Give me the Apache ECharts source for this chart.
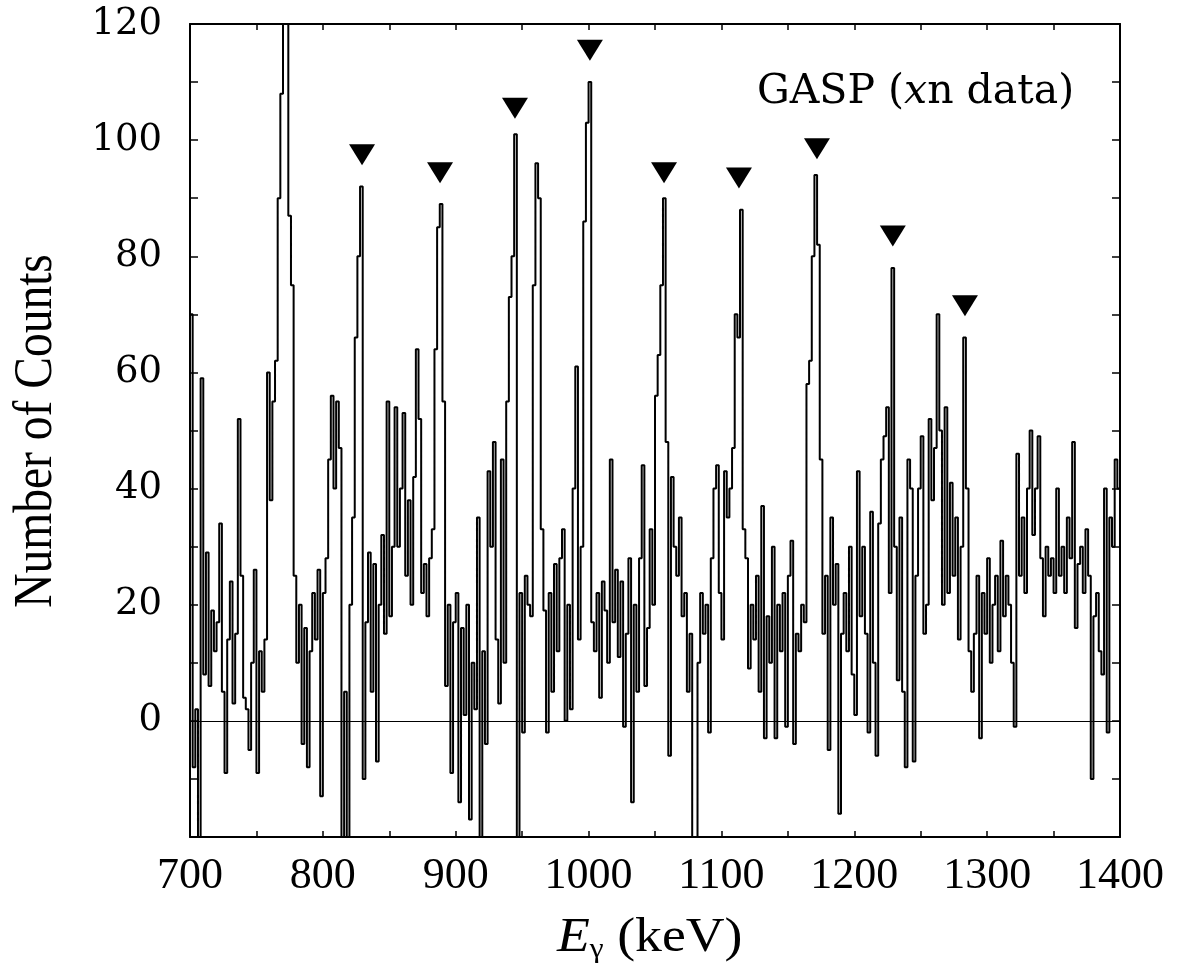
<!DOCTYPE html>
<html><head><meta charset="utf-8">
<script src="https://cdn.jsdelivr.net/npm/echarts@6/dist/echarts.min.js"></script>
<style>html,body{margin:0;padding:0;background:#fff}#c{width:1181px;height:968px}</style>
</head><body><div id="c"></div>
<script>
// Spectrum: 2 keV bins starting at 700 keV
const binStart = 700;
const binWidth = 2;
const counts = [
 70,-8,2,-25,59,8,29,6,19,12,   // 700-718
 17,34,5,-9,14,24,3,15,52,25,   // 720-738
 4,2,-5,10,26,-9,12,5,14,60,    // 740-758
 38,55,62,90,108,160,200,87,75,25, // 760-778
 10,20,-4,16,-8,12,22,14,26,-13, // 780-798
 22,28,45,56,40,55,47,-30,5,-30, // 800-818
 20,35,66,80,92,-10,17,29,5,27,  // 820-838
 -7,20,32,15,55,18,30,54,30,40,  // 840-858
 53,25,38,20,42,64,52,22,27,18,  // 860-878
 28,33,64,85,89,55,6,20,-9,17,   // 880-898
 22,-14,16,1,20,-17,10,2,35,-25, // 900-918
 12,-4,43,30,48,14,3,45,10,55,   // 920-938
 73,80,101,-25,22,-2,25,20,18,75, // 940-958
 96,90,33,19,-2,22,5,27,12,28,   // 960-978
 33,0,20,2,40,61,14,30,86,103,   // 980-998
 110,17,12,22,4,24,19,10,45,17,  // 1000-1018
 26,11,24,-1,15,28,-14,20,5,28,  // 1020-1038
 44,6,16,33,20,56,63,75,90,48,   // 1040-1058
 -6,42,30,25,35,18,22,5,15,-30,  // 1060-1078
 -30,10,22,15,20,-2,28,40,44,22, // 1080-1098
 14,43,35,40,47,70,66,88,33,28,  // 1100-1118
 9,20,14,25,5,37,-3,18,10,30,    // 1120-1138
 -3,20,12,22,-1,25,31,-4,15,12,  // 1140-1158
 20,17,58,62,80,94,82,45,15,25,  // 1160-1178
 -5,35,20,27,-16,15,22,12,30,8,  // 1180-1198
 1,43,18,30,15,-2,36,10,-6,34,   // 1200-1218
 45,49,54,22,78,30,7,35,5,-8,    // 1220-1238
 45,40,-7,25,40,49,15,20,52,38,  // 1240-1258
 47,70,50,20,54,22,41,25,35,14,  // 1260-1278
 30,66,40,12,5,15,25,-3,22,15,   // 1280-1298
 28,10,20,25,12,31,18,25,20,10,  // 1300-1318
 -1,46,25,35,22,40,50,32,40,49,  // 1320-1338
 28,18,30,25,28,22,40,25,30,22,  // 1340-1358
 35,28,48,16,27,30,22,33,25,-10, // 1360-1378
 18,22,12,8,40,-2,35,30,45,40    // 1380-1398
];
// Marked peaks (triangles)
const peakEnergy = [829.5, 888.2, 944.6, 1001, 1056.8, 1113.2, 1171.9, 1229, 1283.3];
const peakMarkY  = [97.5, 94.4, 105.5, 115.5, 94.4, 93.5, 98.5, 83.5, 71.5];
const xTickLabels = [700, 800, 900, 1000, 1100, 1200, 1300, 1400];
const yTickLabels = [0, 20, 40, 60, 80, 100, 120];

const spectrum = counts.map((c, i) => [binStart + i * binWidth, c]);
spectrum.push([binStart + counts.length * binWidth, counts[counts.length - 1]]);
const marks = peakEnergy.map((e, i) => [e, peakMarkY[i]]);

const chart = echarts.init(document.getElementById('c'), null, {renderer: 'canvas'});
const serif = '"Liberation Serif", "Times New Roman", serif';
const wideSerif = '"DejaVu Serif", serif';
const axisCommon = {
  type: 'value',
  axisLine: {show: true, onZero: false, lineStyle: {color: '#000', width: 2}},
  splitLine: {show: false},
};
const xTick = {show: true, inside: true, length: 6, lineStyle: {color: '#000', width: 1.5}};
const xMinor = {show: true, splitNumber: 2, length: 6, lineStyle: {color: '#000', width: 1.5}};
const yTick = {show: true, inside: true, length: 8, lineStyle: {color: '#000', width: 1.5}};
const yMinor = {show: true, splitNumber: 2, length: 8, lineStyle: {color: '#000', width: 1.5}};
chart.setOption({
  animation: false,
  backgroundColor: '#fff',
  grid: {left: 190, right: 61, top: 24, bottom: 131, containLabel: false},
  xAxis: [
    Object.assign({}, axisCommon, {
      position: 'bottom', min: 700, max: 1400, interval: 100,
      axisTick: xTick, minorTick: xMinor,
      axisLabel: {
        color: '#000', fontFamily: serif, fontSize: 44, margin: 17,
        formatter: v => xTickLabels.includes(v) ? String(v) : ''
      }
    }),
    Object.assign({}, axisCommon, {
      position: 'top', min: 700, max: 1400, interval: 100,
      axisTick: xTick, minorTick: xMinor, axisLabel: {show: false}
    })
  ],
  yAxis: [
    Object.assign({}, axisCommon, {
      position: 'left', min: -20, max: 120, interval: 20,
      axisTick: yTick, minorTick: yMinor,
      axisLabel: {
        color: '#000', fontFamily: wideSerif, fontSize: 37, margin: 28,
        formatter: v => yTickLabels.includes(v) ? String(v) : ''
      }
    }),
    Object.assign({}, axisCommon, {
      position: 'right', min: -20, max: 120, interval: 20,
      axisTick: yTick, minorTick: yMinor, axisLabel: {show: false}
    })
  ],
  series: [
    {
      type: 'line', name: 'GASP', data: spectrum, step: 'end', symbol: 'none',
      clip: true, lineStyle: {color: '#000', width: 2},
      markLine: {
        silent: true, symbol: 'none', label: {show: false},
        lineStyle: {color: '#000', width: 1.2, type: 'solid'},
        data: [{yAxis: 0}]
      }
    },
    {
      type: 'scatter', name: 'peaks', data: marks, symbol: 'triangle', symbolRotate: 180,
      symbolSize: [26, 21], itemStyle: {color: '#000', opacity: 1}
    }
  ],
  graphic: [
    {type: 'text', x: 37, y: 431, rotation: Math.PI / 2, scaleX: 0.88,
     style: {text: 'Number of Counts', font: '54px ' + serif, fill: '#000', align: 'center', verticalAlign: 'middle'}},
    {type: 'text', x: 557, y: 938, scaleX: 1.12,
     style: {text: '{i|E}{s|γ}{r| (keV)}', fill: '#000', verticalAlign: 'middle',
       rich: {
         i: {font: 'italic 48px ' + serif, fill: '#000'},
         s: {font: '28px ' + serif, fill: '#000', padding: [24, 0, 0, 0]},
         r: {font: '48px ' + serif, fill: '#000'}
       }}},
    {type: 'text', x: 757, y: 92,
     style: {text: '{r|GASP (}{i|x}{r|n data)}', fill: '#000', verticalAlign: 'middle',
       rich: {
         r: {font: '41px ' + wideSerif, fill: '#000'},
         i: {font: 'italic 41px ' + wideSerif, fill: '#000'}
       }}}
  ]
});
</script>
</body></html>
